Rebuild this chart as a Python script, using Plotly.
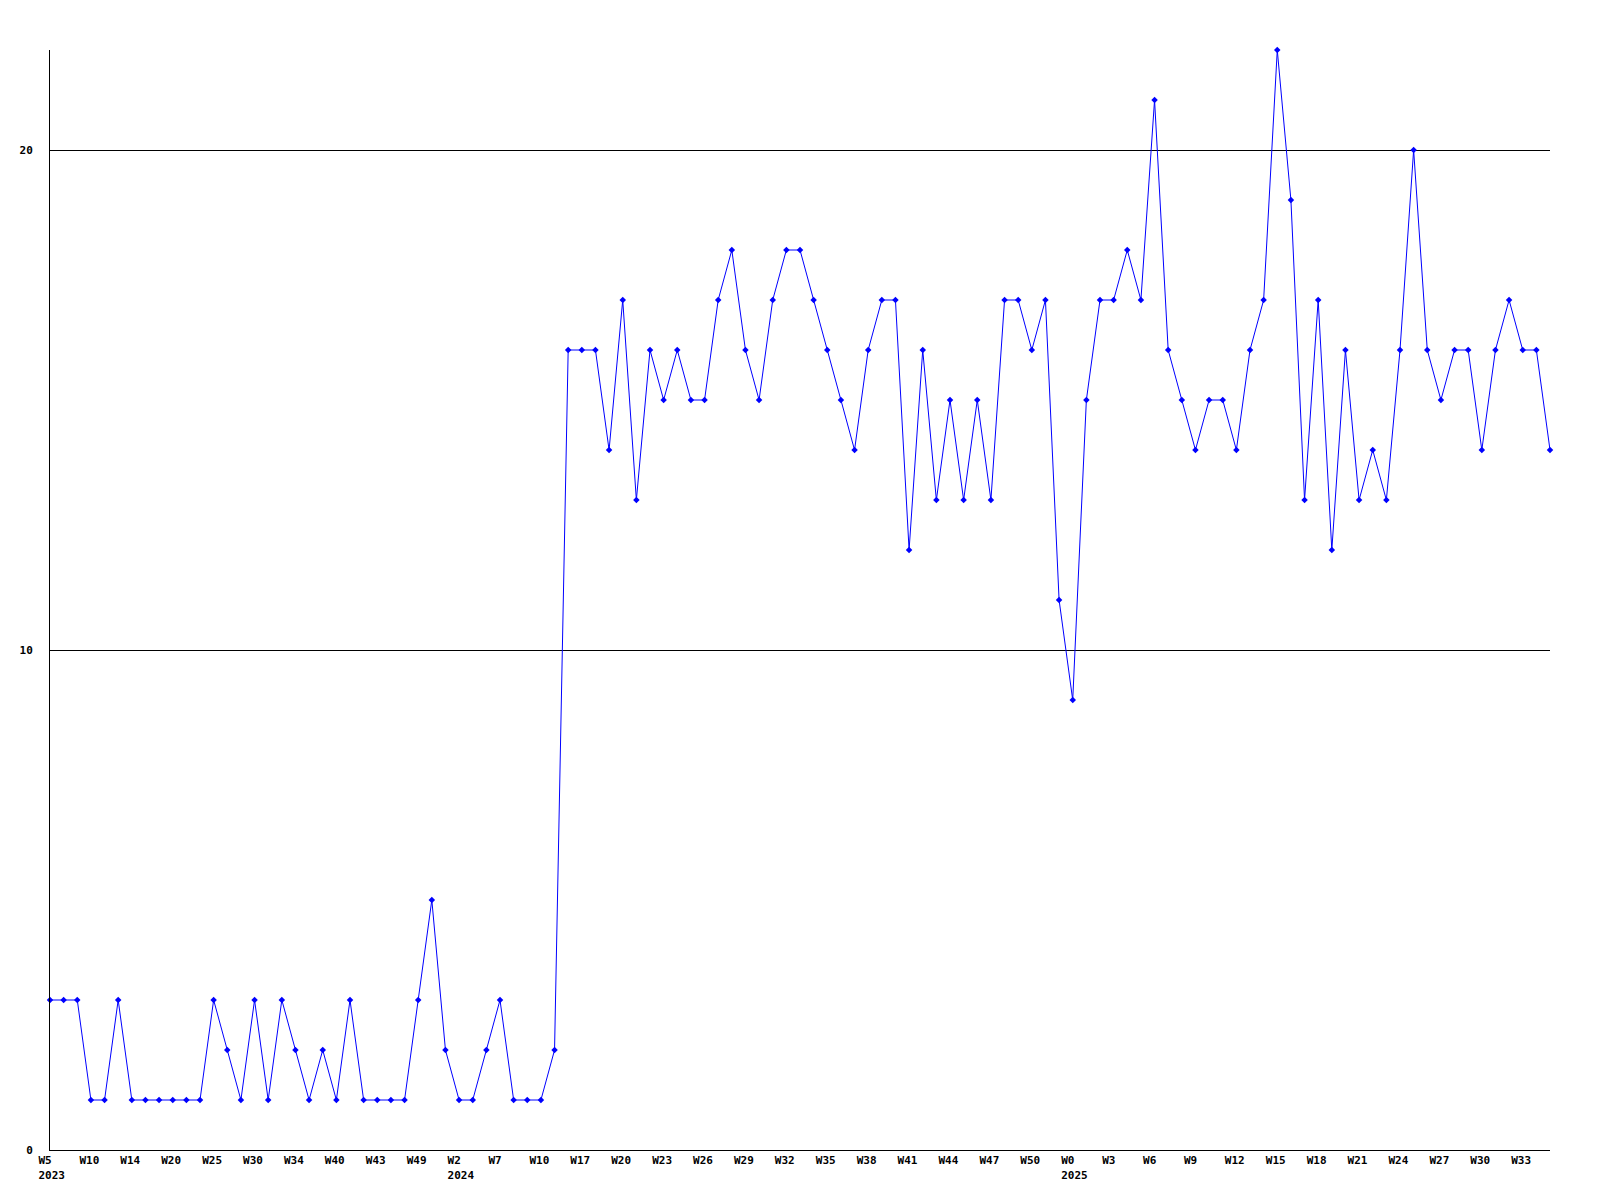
import plotly.graph_objects as go

# Values per data point (111 points, weekly-ish)
values = [
    3, 3, 3, 1, 1, 3, 1, 1, 1, 1,
    1, 1, 3, 2, 1, 3, 1, 3, 2, 1,
    2, 1, 3, 1, 1, 1, 1, 3, 5, 2,
    1, 1, 2, 3, 1, 1, 1, 2, 16, 16,
    16, 14, 17, 13, 16, 15, 16, 15, 15, 17,
    18, 16, 15, 17, 18, 18, 17, 16, 15, 14,
    16, 17, 17, 12, 16, 13, 15, 13, 15, 13,
    17, 17, 16, 17, 11, 9, 15, 17, 17, 18,
    17, 21, 16, 15, 14, 15, 15, 14, 16, 17,
    22, 19, 13, 17, 12, 16, 13, 14, 13, 16,
    20, 16, 15, 16, 16, 14, 16, 17, 16, 16,
    14,
]

# Tick labels shown every third point
week_labels = ["W5", "W10", "W14", "W20", "W25", "W30", "W34", "W40", "W43", "W49",
               "W2", "W7", "W10", "W17", "W20", "W23", "W26", "W29", "W32", "W35",
               "W38", "W41", "W44", "W47", "W50", "W0", "W3", "W6", "W9", "W12",
               "W15", "W18", "W21", "W24", "W27", "W30", "W33"]
year_labels = {0: "2023", 10: "2024", 25: "2025"}

y_ticks = [0, 10, 20]

x = list(range(len(values)))
tickvals = x[::3][:len(week_labels)]
ticktext = [w + ("<br>" + year_labels[i] if i in year_labels else "")
            for i, w in enumerate(week_labels)]

font = dict(family="DejaVu Sans Mono", size=11, color="black", weight="bold")

fig = go.Figure()
fig.add_trace(go.Scatter(
    x=x, y=values, mode="lines+markers",
    line=dict(color="#0000ff", width=1),
    marker=dict(color="#0000ff", size=5, symbol="diamond"),
    cliponaxis=False, showlegend=False,
))

fig.update_layout(
    width=1592, height=1192,
    margin=dict(l=42, r=50, t=42, b=50),
    plot_bgcolor="white", paper_bgcolor="white",
    xaxis=dict(
        range=[0, len(values) - 1], showgrid=False, zeroline=False,
        showline=True, linecolor="black", linewidth=1,
        tickmode="array", tickvals=tickvals, ticktext=ticktext,
        ticks="", tickfont=font,
        ticklabelposition="outside right", ticklabelshift=-12,
        ticklabelstandoff=0,
    ),
    yaxis=dict(
        range=[0, 22], showgrid=True, gridcolor="black", gridwidth=1,
        zeroline=False, showline=True, linecolor="black", linewidth=1,
        tickmode="array", tickvals=y_ticks, ticktext=[str(v) for v in y_ticks],
        ticks="", tickfont=font, ticklabelstandoff=14,
    ),
)

fig.write_html("out.html")
